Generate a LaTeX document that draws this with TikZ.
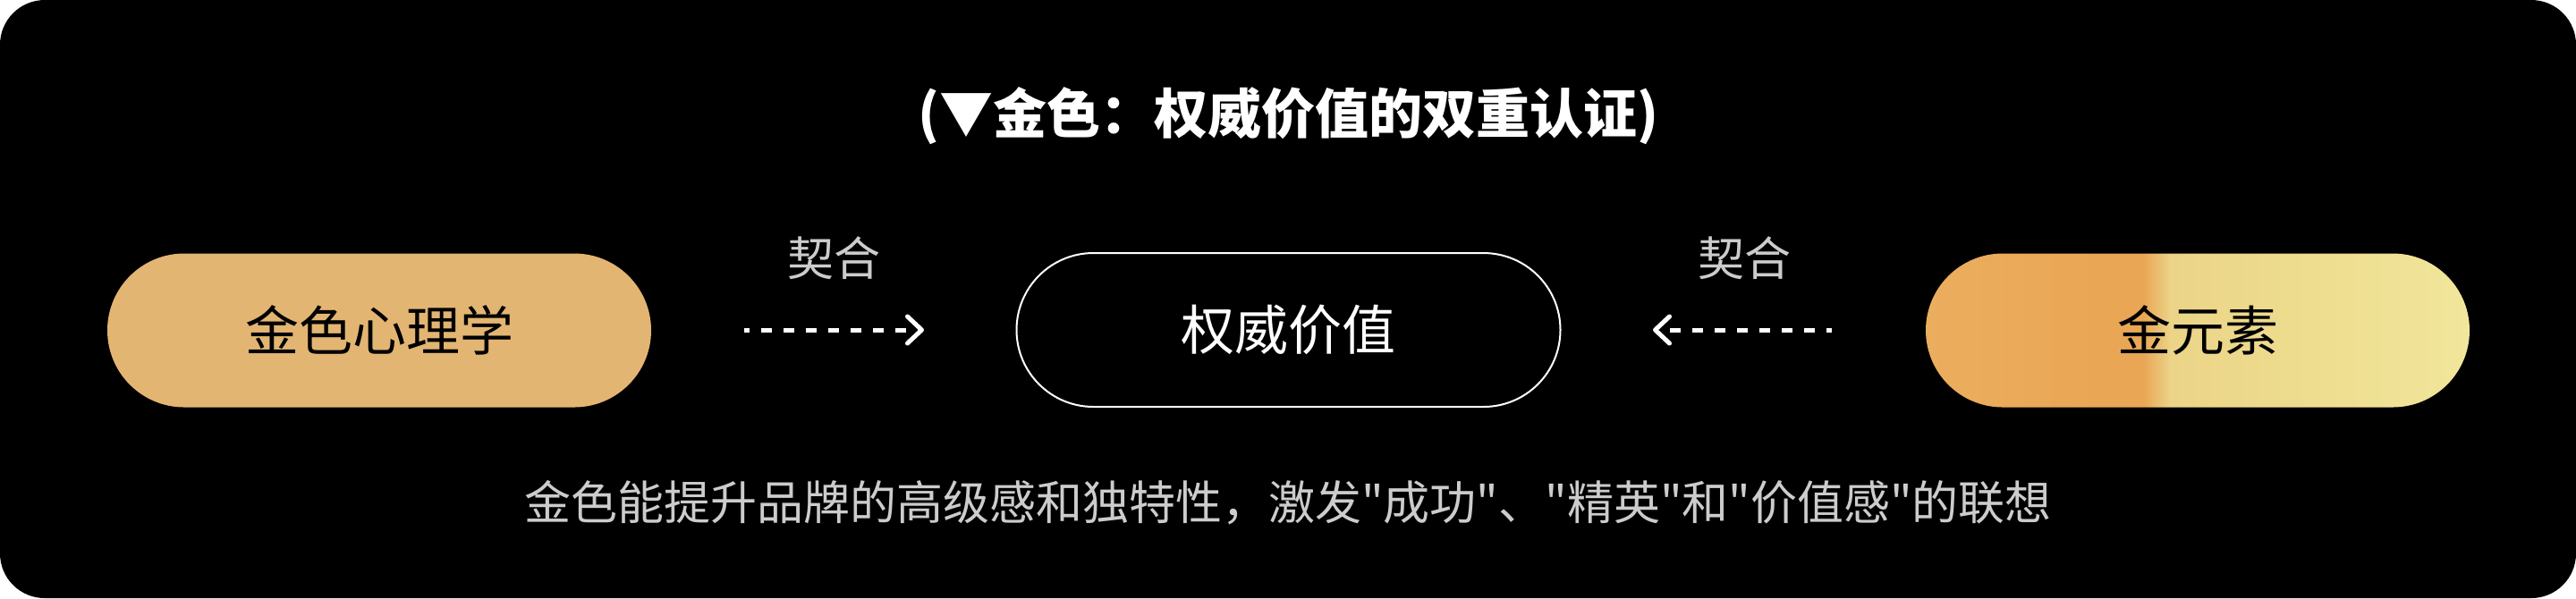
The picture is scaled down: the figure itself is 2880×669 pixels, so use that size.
\documentclass[tikz,border=0pt]{standalone}
\usepackage{fontspec}
\newfontfamily\cjk{Noto Sans CJK SC}
\usetikzlibrary{arrows.meta}
\definecolor{pillgold}{HTML}{E3B572}
\definecolor{softgrey}{HTML}{CCCCCC}
\definecolor{gA}{HTML}{EBAE5E}
\definecolor{gB}{HTML}{EAA958}
\definecolor{gC}{HTML}{E9A654}
\definecolor{gD}{HTML}{EBD488}
\definecolor{gE}{HTML}{EEDE90}
\definecolor{gF}{HTML}{F1E69C}
\pgfdeclarehorizontalshading{goldtex}{100bp}{color(0bp)=(gA); color(25bp)=(gA); color(35bp)=(gB); color(45bp)=(gC); color(47.5bp)=(gD); color(62bp)=(gE); color(75bp)=(gF); color(100bp)=(gF)}
\tikzset{
  pill/.style={rectangle, rounded corners=21.5pt, minimum width=152pt, minimum height=43pt,
    inner sep=0pt, font=\cjk\fontsize{15pt}{18pt}\selectfont},
  pillplain/.style={pill, fill=pillgold, text=black},
  pillgoldtex/.style={pill, shading=goldtex, text=black},
  pilloutline/.style={pill, draw=white, line width=0.5pt, fill=black, text=white},
  titletext/.style={text=white, inner sep=0pt, font=\cjk\bfseries\fontsize{15pt}{18pt}\selectfont},
  lbltext/.style={text=softgrey, inner sep=0pt, font=\cjk\fontsize{13pt}{16pt}\selectfont},
  notetext/.style={text=softgrey, inner sep=0pt, font=\cjk\fontsize{13pt}{16pt}\selectfont},
  dasharrow/.style={white, line width=1.25pt, dash pattern=on 2.925pt off 3.325pt, dash phase=1.43pt,
    -{Straight Barb[length=4pt, width=7.5pt, line cap=round, line join=round]}}
}
\begin{document}
\begin{tikzpicture}[x=0.25pt, y=-0.25pt]
  \useasboundingbox (0,0) rectangle (2880,669);
  \fill[white] (0,0) rectangle (2880,669);
  \fill[black, rounded corners=12.5pt] (0,0) rectangle (2880,669);

  \node[titletext] (title) at (1440,130) {(▼金色：权威价值的双重认证)};

  \node[pillplain] (psy) at (424,369.5) {金色心理学};
  \node[pilloutline] (auth) at (1440.5,369) {权威价值};
  \node[pillgoldtex] (elem) at (2457,369.5) {金元素};

  \node[lbltext] (k1) at (932,289) {契合};
  \node[lbltext] (k2) at (1950,289) {契合};

  \coordinate (a1s) at (832,369);
  \coordinate (a1e) at (1033,369);
  \coordinate (a2s) at (2048,369);
  \coordinate (a2e) at (1848,369);
  \draw[dasharrow] (a1s) -- (a1e);
  \draw[dasharrow] (a2s) -- (a2e);

  \node[notetext] (note) at (1440,562) {金色能提升品牌的高级感和独特性，激发"成功"、"精英"和"价值感"的联想};
\end{tikzpicture}
\end{document}
